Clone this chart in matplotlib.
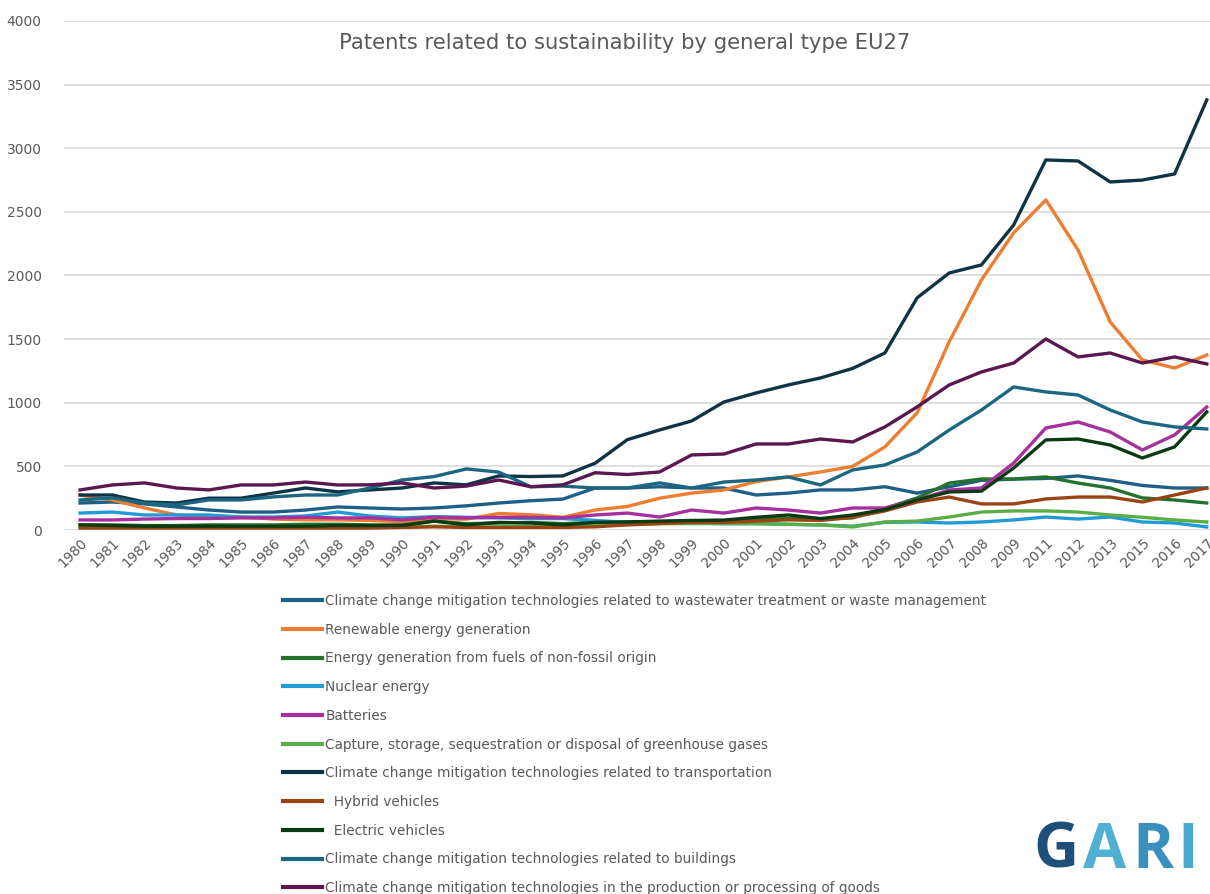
import matplotlib
matplotlib.use("Agg")
import matplotlib.pyplot as plt

years = [str(y) for y in range(1980, 2010)] + ["2011", "2012", "2013", "2015", "2016", "2017"]

wastewater = [212, 220, 205, 181, 157, 141, 141, 157, 181, 173, 165, 173, 190, 212, 230, 243, 330, 330,
              340, 330, 330, 275, 290, 315, 315, 340, 290, 340, 390, 400, 405, 425, 390, 350, 330, 330]
renewable = [275, 236, 173, 118, 102, 102, 86, 80, 80, 75, 65, 90, 85, 130, 120, 100, 157, 185,
             250, 290, 315, 380, 417, 456, 500, 653, 920, 1480, 1965, 2335, 2594, 2201, 1635, 1336, 1273, 1375]
nonfossil = [40, 40, 35, 35, 40, 40, 40, 45, 45, 40, 40, 70, 50, 55, 60, 50, 60, 65,
             65, 70, 70, 85, 90, 85, 95, 170, 252, 369, 401, 401, 417, 369, 330, 252, 236, 212]
nuclear = [133, 141, 118, 118, 118, 102, 102, 110, 141, 110, 95, 105, 100, 95, 90, 90, 75, 60,
           55, 55, 50, 50, 45, 40, 30, 60, 63, 55, 63, 79, 102, 86, 102, 63, 55, 24]
batteries = [79, 79, 86, 90, 90, 95, 95, 100, 95, 95, 80, 100, 95, 100, 100, 95, 118, 133,
             102, 157, 133, 173, 157, 133, 173, 173, 236, 314, 330, 526, 802, 849, 770, 629, 747, 967]
capture = [25, 25, 25, 25, 25, 30, 30, 30, 35, 30, 25, 30, 25, 25, 30, 25, 35, 45,
           50, 50, 50, 50, 45, 40, 24, 63, 70, 102, 141, 150, 150, 141, 118, 100, 79, 63]
transport = [275, 275, 220, 212, 250, 250, 290, 330, 300, 315, 330, 370, 355, 425, 420, 425, 525, 710,
             786, 857, 1006, 1077, 1140, 1195, 1270, 1391, 1824, 2020, 2083, 2397, 2908, 2900, 2735, 2750, 2798, 3380]
hybrid = [15, 15, 15, 15, 15, 15, 15, 15, 15, 15, 20, 25, 20, 20, 20, 20, 25, 40,
          50, 60, 60, 70, 80, 75, 100, 150, 220, 259, 205, 205, 244, 259, 259, 220, 275, 330]
electric = [40, 35, 30, 30, 30, 30, 30, 30, 35, 35, 35, 70, 40, 60, 55, 40, 60, 63,
            70, 75, 78, 100, 118, 90, 118, 160, 236, 299, 305, 487, 708, 715, 668, 566, 653, 928]
buildings = [236, 252, 212, 197, 236, 236, 260, 275, 275, 330, 393, 420, 480, 455, 340, 345, 330, 330,
             370, 330, 377, 393, 417, 354, 472, 511, 613, 786, 943, 1124, 1085, 1061, 943, 849, 810, 794]
production = [315, 354, 370, 330, 315, 354, 354, 377, 354, 355, 370, 330, 345, 393, 340, 355, 450, 436,
              456, 590, 597, 676, 676, 715, 692, 810, 967, 1140, 1242, 1312, 1501, 1360, 1391, 1312, 1360, 1305]

series = [
    ("Climate change mitigation technologies related to wastewater treatment or waste management", wastewater, "#1f5f86"),
    ("Renewable energy generation", renewable, "#ed7d31"),
    ("Energy generation from fuels of non-fossil origin", nonfossil, "#23732e"),
    ("Nuclear energy", nuclear, "#1f9bd6"),
    ("Batteries", batteries, "#a6309d"),
    ("Capture, storage, sequestration or disposal of greenhouse gases", capture, "#5aae45"),
    ("Climate change mitigation technologies related to transportation", transport, "#0e3345"),
    ("  Hybrid vehicles", hybrid, "#9a4416"),
    ("  Electric vehicles", electric, "#0a3a12"),
    ("Climate change mitigation technologies related to buildings", buildings, "#1b6680"),
    ("Climate change mitigation technologies in the production or processing of goods", production, "#5a1751"),
]

grey = "#595959"
fig = plt.figure(figsize=(12.10, 8.94), dpi=100)
ax = fig.add_axes([64 / 1210, 1 - 530 / 894, (1210 - 64) / 1210, 509 / 894])

x = list(range(len(years)))
for name, vals, col in series:
    ax.plot(x, vals, color=col, lw=2.4, label=name, solid_joinstyle="round")

ax.set_xlim(-0.5, 35.1)
ax.set_ylim(0, 4000)
ax.set_yticks(range(0, 4001, 500))
ax.grid(axis="y", color="#d9d9d9", lw=1.2)
ax.set_axisbelow(True)
for s in ax.spines.values():
    s.set_visible(False)
ax.tick_params(length=0, colors=grey, labelsize=10)
ax.tick_params(axis="y", pad=16)
ax.set_xticks(x)
ax.set_xticklabels(years, rotation=45, ha="right", va="top", rotation_mode="anchor")
ax.tick_params(axis="x", pad=4, labelsize=9.8)

fig.text(0.516, 1 - 43 / 894, "Patents related to sustainability by general type EU27",
         ha="center", va="center", fontsize=15.2, color=grey)

leg = fig.legend(loc="upper left", bbox_to_anchor=(283 / 1210, 1 - 594 / 894), frameon=False,
                 fontsize=9.8, labelcolor=grey, handlelength=2.9, handletextpad=0.2,
                 labelspacing=1.08, borderaxespad=0, borderpad=0)
for ln in leg.get_lines():
    ln.set_linewidth(3)

# GARI logo as text, letters in blue shades
letters = [("G", "#1d4f78"), ("A", "#4fb0d4"), ("R", "#3a8fbf"), ("I", "#4aa9cf")]
xs = [1033, 1083, 1132, 1177]
for (ch, col), xp in zip(letters, xs):
    fig.text(xp / 1210, 1 - 851 / 894, ch, fontsize=45, fontweight="bold",
             color=col, ha="left", va="center", family="Open Sans")

fig.savefig("out.png", dpi=100)
